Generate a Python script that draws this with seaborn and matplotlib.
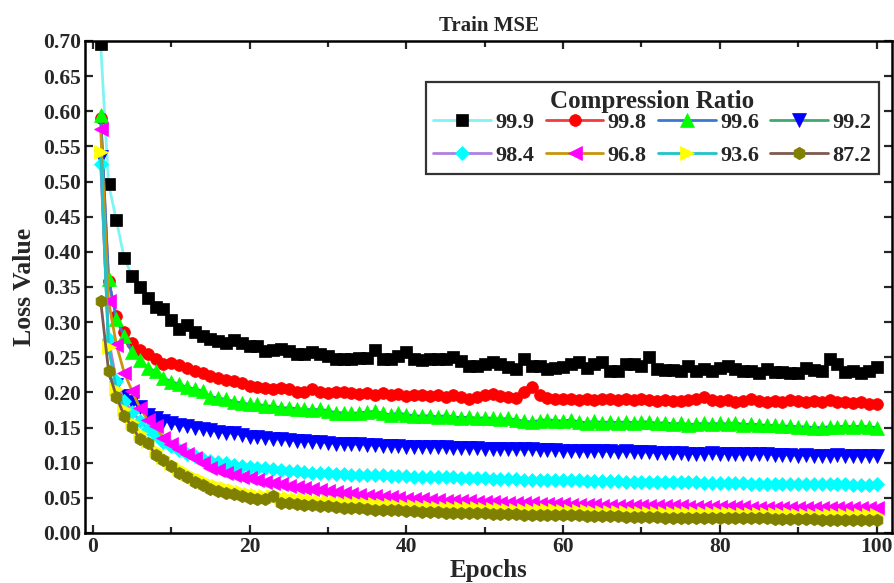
import matplotlib
matplotlib.use("Agg")
import matplotlib.pyplot as plt
import seaborn as sns
import numpy as np
import pandas as pd

epochs = list(range(1, 101))

labels = ["99.9", "99.8", "99.6", "99.2", "98.4", "96.8", "93.6", "87.2"]

s999 = [0.695, 0.497, 0.445, 0.391, 0.366, 0.350, 0.334, 0.322, 0.318, 0.303,
        0.290, 0.296, 0.286, 0.280, 0.276, 0.273, 0.270, 0.274, 0.270, 0.266,
        0.266, 0.259, 0.260, 0.262, 0.259, 0.255, 0.255, 0.257, 0.255, 0.252,
        0.248, 0.248, 0.248, 0.249, 0.249, 0.260, 0.248, 0.247, 0.252, 0.257,
        0.247, 0.246, 0.248, 0.248, 0.248, 0.251, 0.244, 0.237, 0.237, 0.241,
        0.243, 0.240, 0.236, 0.234, 0.248, 0.237, 0.237, 0.233, 0.235, 0.236,
        0.241, 0.243, 0.235, 0.241, 0.243, 0.231, 0.231, 0.241, 0.240, 0.238,
        0.250, 0.233, 0.232, 0.232, 0.231, 0.237, 0.231, 0.233, 0.230, 0.235,
        0.237, 0.234, 0.231, 0.230, 0.228, 0.234, 0.229, 0.229, 0.228, 0.227,
        0.235, 0.232, 0.231, 0.247, 0.240, 0.229, 0.230, 0.227, 0.230, 0.236]

s998 = [0.590, 0.358, 0.309, 0.286, 0.270, 0.260, 0.254, 0.248, 0.241, 0.242,
        0.239, 0.235, 0.230, 0.228, 0.224, 0.221, 0.218, 0.216, 0.214, 0.209,
        0.208, 0.206, 0.205, 0.206, 0.205, 0.200, 0.201, 0.205, 0.200, 0.199,
        0.201, 0.200, 0.199, 0.198, 0.199, 0.197, 0.199, 0.196, 0.198, 0.195,
        0.197, 0.196, 0.195, 0.196, 0.194, 0.196, 0.193, 0.191, 0.194, 0.196,
        0.198, 0.195, 0.193, 0.192, 0.201, 0.207, 0.196, 0.192, 0.191, 0.190,
        0.191, 0.189, 0.190, 0.189, 0.191, 0.190, 0.189, 0.190, 0.189, 0.190,
        0.189, 0.188, 0.189, 0.188, 0.188, 0.189, 0.191, 0.193, 0.189, 0.188,
        0.189, 0.187, 0.188, 0.190, 0.188, 0.186, 0.188, 0.187, 0.189, 0.188,
        0.187, 0.188, 0.186, 0.189, 0.186, 0.187, 0.185, 0.186, 0.184, 0.183]

s996 = [0.595, 0.362, 0.305, 0.280, 0.257, 0.246, 0.235, 0.230, 0.221, 0.215,
        0.212, 0.207, 0.205, 0.202, 0.194, 0.192, 0.190, 0.187, 0.185, 0.183,
        0.183, 0.181, 0.180, 0.178, 0.178, 0.177, 0.176, 0.175, 0.176, 0.174,
        0.171, 0.171, 0.170, 0.171, 0.172, 0.173, 0.170, 0.168, 0.171, 0.168,
        0.167, 0.166, 0.167, 0.165, 0.167, 0.165, 0.164, 0.165, 0.163, 0.164,
        0.163, 0.162, 0.163, 0.161, 0.159, 0.158, 0.160, 0.161, 0.160, 0.159,
        0.161, 0.158, 0.157, 0.159, 0.157, 0.158, 0.157, 0.158, 0.157, 0.158,
        0.158, 0.156, 0.157, 0.155, 0.156, 0.154, 0.155, 0.156, 0.155, 0.156,
        0.155, 0.157, 0.154, 0.155, 0.154, 0.153, 0.153, 0.152, 0.152, 0.151,
        0.151, 0.150, 0.150, 0.151, 0.151, 0.152, 0.151, 0.152, 0.151, 0.150]

s992 = [0.535, 0.265, 0.210, 0.195, 0.187, 0.179, 0.168, 0.164, 0.159, 0.157,
        0.153, 0.152, 0.150, 0.148, 0.146, 0.144, 0.142, 0.142, 0.140, 0.137,
        0.136, 0.135, 0.134, 0.133, 0.132, 0.131, 0.131, 0.130, 0.129, 0.128,
        0.127, 0.127, 0.126, 0.126, 0.125, 0.125, 0.124, 0.124, 0.124, 0.123,
        0.123, 0.123, 0.122, 0.122, 0.122, 0.121, 0.121, 0.121, 0.121, 0.120,
        0.120, 0.120, 0.119, 0.119, 0.119, 0.119, 0.118, 0.118, 0.118, 0.117,
        0.117, 0.116, 0.116, 0.117, 0.116, 0.116, 0.115, 0.116, 0.115, 0.115,
        0.115, 0.114, 0.114, 0.114, 0.114, 0.113, 0.113, 0.113, 0.114, 0.113,
        0.113, 0.112, 0.112, 0.112, 0.113, 0.112, 0.111, 0.111, 0.111, 0.110,
        0.111, 0.110, 0.110, 0.110, 0.111, 0.110, 0.109, 0.110, 0.109, 0.110]

s984 = [0.525, 0.276, 0.216, 0.188, 0.172, 0.160, 0.148, 0.139, 0.130, 0.124,
        0.118, 0.113, 0.109, 0.105, 0.103, 0.101, 0.099, 0.097, 0.095, 0.094,
        0.093, 0.092, 0.091, 0.090, 0.088, 0.088, 0.087, 0.086, 0.086, 0.085,
        0.084, 0.084, 0.083, 0.083, 0.082, 0.082, 0.082, 0.081, 0.081, 0.081,
        0.080, 0.080, 0.080, 0.079, 0.079, 0.079, 0.078, 0.078, 0.078, 0.078,
        0.077, 0.077, 0.077, 0.077, 0.076, 0.076, 0.076, 0.076, 0.075, 0.075,
        0.075, 0.075, 0.074, 0.074, 0.074, 0.074, 0.074, 0.073, 0.073, 0.073,
        0.073, 0.073, 0.072, 0.072, 0.072, 0.072, 0.072, 0.071, 0.071, 0.071,
        0.071, 0.071, 0.071, 0.070, 0.070, 0.070, 0.070, 0.070, 0.070, 0.069,
        0.069, 0.069, 0.069, 0.069, 0.069, 0.069, 0.068, 0.068, 0.068, 0.069]

s968 = [0.575, 0.330, 0.268, 0.228, 0.202, 0.178, 0.161, 0.152, 0.135, 0.127,
        0.120, 0.113, 0.106, 0.099, 0.093, 0.090, 0.086, 0.083, 0.080, 0.078,
        0.075, 0.073, 0.071, 0.069, 0.067, 0.065, 0.064, 0.062, 0.061, 0.060,
        0.058, 0.057, 0.055, 0.054, 0.053, 0.052, 0.051, 0.051, 0.050, 0.049,
        0.049, 0.048, 0.047, 0.047, 0.046, 0.046, 0.045, 0.045, 0.044, 0.044,
        0.044, 0.043, 0.043, 0.042, 0.042, 0.042, 0.041, 0.041, 0.041, 0.041,
        0.040, 0.040, 0.040, 0.040, 0.039, 0.039, 0.039, 0.039, 0.039, 0.038,
        0.038, 0.038, 0.038, 0.038, 0.038, 0.037, 0.037, 0.037, 0.037, 0.037,
        0.037, 0.037, 0.037, 0.036, 0.036, 0.036, 0.036, 0.036, 0.036, 0.036,
        0.036, 0.036, 0.035, 0.035, 0.036, 0.035, 0.035, 0.035, 0.035, 0.035]

s936 = [0.542, 0.264, 0.205, 0.176, 0.158, 0.142, 0.131, 0.118, 0.108, 0.100,
        0.092, 0.086, 0.080, 0.075, 0.070, 0.067, 0.064, 0.061, 0.058, 0.055,
        0.054, 0.053, 0.052, 0.051, 0.050, 0.049, 0.048, 0.047, 0.046, 0.045,
        0.044, 0.043, 0.043, 0.042, 0.041, 0.041, 0.040, 0.040, 0.039, 0.038,
        0.038, 0.037, 0.037, 0.036, 0.036, 0.036, 0.035, 0.035, 0.035, 0.034,
        0.034, 0.034, 0.033, 0.033, 0.033, 0.032, 0.032, 0.032, 0.032, 0.031,
        0.031, 0.031, 0.031, 0.030, 0.030, 0.030, 0.030, 0.030, 0.029, 0.029,
        0.029, 0.029, 0.029, 0.029, 0.028, 0.028, 0.028, 0.028, 0.028, 0.028,
        0.028, 0.027, 0.027, 0.027, 0.027, 0.027, 0.027, 0.027, 0.027, 0.026,
        0.026, 0.026, 0.026, 0.026, 0.026, 0.026, 0.026, 0.026, 0.025, 0.026]

s872 = [0.330, 0.231, 0.194, 0.167, 0.151, 0.134, 0.128, 0.111, 0.104, 0.095,
        0.086, 0.079, 0.073, 0.068, 0.063, 0.060, 0.057, 0.055, 0.052, 0.050,
        0.049, 0.049, 0.053, 0.043, 0.042, 0.041, 0.040, 0.040, 0.039, 0.038,
        0.037, 0.036, 0.036, 0.035, 0.034, 0.033, 0.033, 0.032, 0.032, 0.031,
        0.031, 0.030, 0.030, 0.030, 0.029, 0.029, 0.029, 0.028, 0.028, 0.028,
        0.027, 0.027, 0.027, 0.027, 0.026, 0.026, 0.026, 0.026, 0.025, 0.025,
        0.025, 0.025, 0.024, 0.024, 0.024, 0.024, 0.024, 0.023, 0.023, 0.023,
        0.023, 0.023, 0.022, 0.022, 0.022, 0.022, 0.022, 0.022, 0.021, 0.021,
        0.021, 0.021, 0.021, 0.021, 0.022, 0.021, 0.020, 0.020, 0.020, 0.020,
        0.020, 0.020, 0.019, 0.019, 0.019, 0.019, 0.019, 0.019, 0.018, 0.018]

series = [s999, s998, s996, s992, s984, s968, s936, s872]

line_colors = ["#80f4f4", "#f03c3c", "#3a78d8", "#3cab6e",
               "#b07ee0", "#c8960a", "#1ec4c8", "#7f5a50"]
marker_colors = ["#000000", "#ff0000", "#00ff00", "#0000ff",
                 "#00ffff", "#ff00ff", "#ffff00", "#808000"]
markers = ["s", "o", "^", "v", "D", "<", ">", "h"]
msizes = [8, 8.5, 9.5, 9.5, 7.5, 9.5, 9.5, 9]

sns.set_theme(style="ticks")
plt.rcParams["font.family"] = ["Liberation Serif", "DejaVu Serif"]
plt.rcParams["font.weight"] = "bold"
plt.rcParams["axes.labelweight"] = "bold"
plt.rcParams["axes.titleweight"] = "bold"

fig = plt.figure(figsize=(8.94, 5.83), dpi=100)
ax = fig.add_axes([0.0951, 0.0858, 0.9029, 0.8439])

handles = []
for lab, vals, lc, mc, mk, ms in zip(labels, series, line_colors,
                                     marker_colors, markers, msizes):
    df = pd.DataFrame({"Epochs": epochs, "Loss": vals})
    sns.lineplot(data=df, x="Epochs", y="Loss", ax=ax, color=lc,
                 linewidth=2.0, marker=mk, markersize=ms,
                 markerfacecolor=mc, markeredgecolor=mc,
                 markeredgewidth=0.5, label=lab, legend=False)
    handles.append(ax.lines[-1])

ax.set_xlim(-1, 102)
ax.set_ylim(0, 0.70)
ax.set_xticks([0, 20, 40, 60, 80, 100])
ax.set_xticks([10, 30, 50, 70, 90], minor=True)
ax.set_yticks(np.arange(0, 0.701, 0.05))
ax.yaxis.set_major_formatter(matplotlib.ticker.FormatStrFormatter("%.2f"))
ax.tick_params(axis="both", which="both", direction="in", top=True,
               right=True, width=1.6, labelsize=15.5, pad=3)
ax.tick_params(axis="both", which="major", length=6)
ax.tick_params(axis="both", which="minor", length=4)
for lbl in ax.get_xticklabels() + ax.get_yticklabels():
    lbl.set_fontweight("bold")
for sp in ax.spines.values():
    sp.set_linewidth(1.8)
    sp.set_color("black")

ax.set_xlabel("Epochs", fontsize=18, fontweight="bold", labelpad=1)
ax.set_ylabel("Loss Value", fontsize=18.5, fontweight="bold", labelpad=5)
ax.set_title("Train MSE", fontsize=15, fontweight="bold", pad=7)

order = [0, 4, 1, 5, 2, 6, 3, 7]
leg = ax.legend([handles[i] for i in order], [labels[i] for i in order],
                title="Compression Ratio", ncol=4, loc="upper right",
                bbox_to_anchor=(0.984, 0.917), borderaxespad=0,
                frameon=True, fancybox=False,
                edgecolor="black", handlelength=2.6, handletextpad=0.2,
                columnspacing=0.5, labelspacing=0.55, borderpad=0.35,
                prop={"size": 16, "weight": "bold"},
                title_fontproperties={"size": 18, "weight": "bold"})
leg.get_frame().set_linewidth(1.6)
leg._legend_box.sep = 0

fig.savefig("out.png", dpi=100)
